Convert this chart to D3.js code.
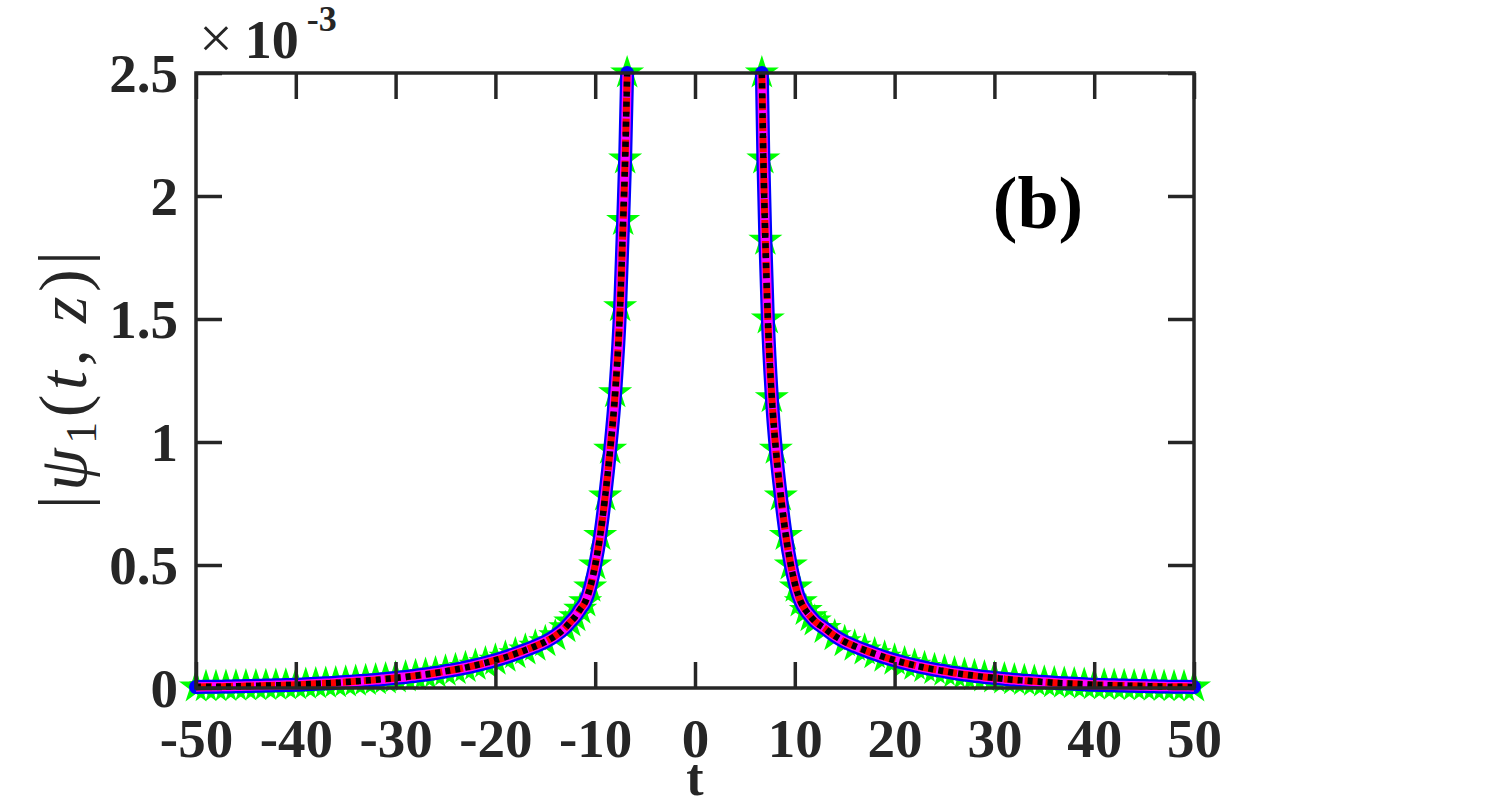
<!DOCTYPE html>
<html>
<head>
<meta charset="utf-8">
<script src="https://cdn.jsdelivr.net/npm/d3@7"></script>
<style>
  body { margin: 0; background: #fff; }
  text { font-family: "Liberation Serif", "Times New Roman", serif; }
</style>
</head>
<body>
<svg id="chart"></svg>
<script>
// values, in units of 1e-3
const leftT = [-50, -49, -48, -47, -46, -45, -44, -43, -42, -41, -40, -39, -38, -37, -36, -35, -34, -33, -32, -31,
  -30, -29, -28, -27, -26, -25, -24, -23, -22, -21, -20, -19, -18, -17, -16, -15, -14, -13, -12.5, -12,
  -11.5, -11, -10.5, -10, -9.5, -9, -8.5, -8, -7.5, -7.2, -7, -6.8];
const leftV = [0.004, 0.005, 0.005, 0.006, 0.007, 0.008, 0.009, 0.010, 0.011, 0.012, 0.013, 0.015, 0.017, 0.019, 0.021, 0.024, 0.027, 0.030, 0.033, 0.037,
  0.041, 0.045, 0.050, 0.055, 0.061, 0.068, 0.075, 0.083, 0.092, 0.102, 0.113, 0.125, 0.139, 0.154, 0.170, 0.188, 0.212, 0.245, 0.268, 0.29,
  0.32, 0.35, 0.41, 0.50, 0.62, 0.78, 0.97, 1.20, 1.55, 1.90, 2.15, 2.5];
const rightT = [6.7, 6.85, 7.05, 7.3, 7.7, 8.1, 8.6, 9.1, 9.6, 10.1, 10.6, 11.1, 11.6, 12, 13, 14, 15, 16, 17, 18,
  19, 20, 21, 22, 23, 24, 25, 26, 27, 28, 29, 30, 31, 32, 33, 34, 35, 36, 37, 38,
  39, 40, 41, 42, 43, 44, 45, 46, 47, 48, 49, 50];
const rightV = [2.5, 2.15, 1.82, 1.50, 1.18, 0.97, 0.78, 0.62, 0.50, 0.41, 0.35, 0.315, 0.29, 0.272, 0.242, 0.212, 0.188, 0.170, 0.154, 0.139,
  0.125, 0.113, 0.102, 0.092, 0.083, 0.075, 0.068, 0.061, 0.055, 0.050, 0.045, 0.041, 0.037, 0.033, 0.030, 0.027, 0.024, 0.021, 0.019, 0.017,
  0.015, 0.013, 0.012, 0.011, 0.010, 0.009, 0.008, 0.007, 0.006, 0.005, 0.005, 0.004];
const xTicks = [-50, -40, -30, -20, -10, 0, 10, 20, 30, 40, 50];
const xTickLabels = ["-50", "-40", "-30", "-20", "-10", "0", "10", "20", "30", "40", "50"];
const yTicks = [0, 0.5, 1, 1.5, 2, 2.5];
const yTickLabels = ["0", "0.5", "1", "1.5", "2", "2.5"];

const W = 1511, H = 803;
const plotL = 196, plotR = 1194, plotT = 73, plotB = 688;
const axisColor = "#262626";

const svg = d3.select("#chart").attr("width", W).attr("height", H);

const x = d3.scaleLinear().domain([-50, 50]).range([plotL, plotR]);
const y = d3.scaleLinear().domain([0, 2.5]).range([plotB, plotT]);

const leftData = leftT.map((t, i) => [t, leftV[i]]);
const rightData = rightT.map((t, i) => [t, rightV[i]]);
const branches = [leftData, rightData];

const line = d3.line()
  .x(d => x(d[0]))
  .y(d => y(d[1]))
  .curve(d3.curveMonotoneX);

// green star markers sit at the back
const star = d3.symbol().type(d3.symbolStar).size(360);
svg.append("g")
  .selectAll("path")
  .data(leftData.concat(rightData))
  .join("path")
  .attr("d", star)
  .attr("transform", d => `translate(${x(d[0])},${y(d[1])})`)
  .attr("fill", "#00ff00");

const styles = [
  { color: "#0000ff", width: 14, dash: null, cap: "round" },
  { color: "#ff00ff", width: 9.5, dash: null, cap: "butt" },
  { color: "#ff0000", width: 7, dash: "16,5", cap: "butt" },
  { color: "#000000", width: 6.5, dash: "5,5", cap: "butt" }
];
styles.forEach(s => {
  svg.append("g")
    .selectAll("path")
    .data(branches)
    .join("path")
    .attr("d", line)
    .attr("fill", "none")
    .attr("stroke", s.color)
    .attr("stroke-width", s.width)
    .attr("stroke-linecap", s.cap)
    .attr("stroke-linejoin", "round")
    .attr("stroke-dasharray", s.dash);
});

// axes, ticks inward on all four sides
const tickLen = 26;
function styleAxis(g) {
  g.selectAll(".domain").remove();
  g.selectAll(".tick line").attr("stroke", axisColor).attr("stroke-width", 3.5);
}
svg.append("g").attr("transform", `translate(0,${plotB})`)
  .call(d3.axisBottom(x).tickValues(xTicks).tickSize(-tickLen).tickFormat((d, i) => xTickLabels[i]))
  .call(styleAxis)
  .call(g => g.selectAll(".tick text")
    .attr("y", 69).attr("dy", 0)
    .attr("fill", axisColor)
    .style("font-size", "55px").style("font-weight", "bold")
    .style("font-family", "'Liberation Serif', serif"));
svg.append("g").attr("transform", `translate(0,${plotT})`)
  .call(d3.axisTop(x).tickValues(xTicks).tickSize(-tickLen).tickFormat(""))
  .call(styleAxis);
svg.append("g").attr("transform", `translate(${plotL},0)`)
  .call(d3.axisLeft(y).tickValues(yTicks).tickSize(-tickLen).tickFormat((d, i) => yTickLabels[i]))
  .call(styleAxis)
  .call(g => g.selectAll(".tick text")
    .attr("x", -18).attr("dy", "0.34em")
    .attr("fill", axisColor)
    .style("font-size", "55px").style("font-weight", "bold")
    .style("font-family", "'Liberation Serif', serif"));
svg.append("g").attr("transform", `translate(${plotR},0)`)
  .call(d3.axisRight(y).tickValues(yTicks).tickSize(-tickLen).tickFormat(""))
  .call(styleAxis);

// box
svg.append("rect")
  .attr("x", plotL).attr("y", plotT)
  .attr("width", plotR - plotL).attr("height", plotB - plotT)
  .attr("fill", "none").attr("stroke", axisColor).attr("stroke-width", 3.5);

// exponent label
const expo = svg.append("text").attr("x", 199).attr("y", 58).attr("fill", axisColor);
expo.append("tspan").text("\u00d7").style("font-size", "60px");
expo.append("tspan").text("10").attr("dx", 12).style("font-size", "54px").style("font-weight", "bold");
expo.append("tspan").text("-3").attr("dx", 8).attr("dy", -27).style("font-size", "36px").style("font-weight", "bold");

// x label
svg.append("text")
  .attr("x", (plotL + plotR) / 2).attr("y", 795)
  .attr("text-anchor", "middle")
  .attr("fill", axisColor)
  .style("font-size", "52px").style("font-weight", "bold")
  .text("t");

// y label
const yl = svg.append("text")
  .attr("transform", "translate(86,380) rotate(-90)")
  .attr("text-anchor", "middle")
  .attr("fill", axisColor)
  .style("font-size", "68px")
  .attr("textLength", 258).attr("lengthAdjust", "spacing");
yl.append("tspan").text("|");
yl.append("tspan").text("\u03c8").style("font-style", "italic");
yl.append("tspan").text("1").attr("dy", 10).style("font-size", "44px");
yl.append("tspan").text("(").attr("dy", -10);
yl.append("tspan").text("t").style("font-style", "italic");
yl.append("tspan").text(", ");
yl.append("tspan").text("z").style("font-style", "italic");
yl.append("tspan").text(")|");

// panel tag
svg.append("text")
  .attr("x", 1038).attr("y", 228)
  .attr("text-anchor", "middle")
  .attr("fill", "#000")
  .style("font-size", "74px").style("font-weight", "bold")
  .text("(b)");
</script>
</body>
</html>
